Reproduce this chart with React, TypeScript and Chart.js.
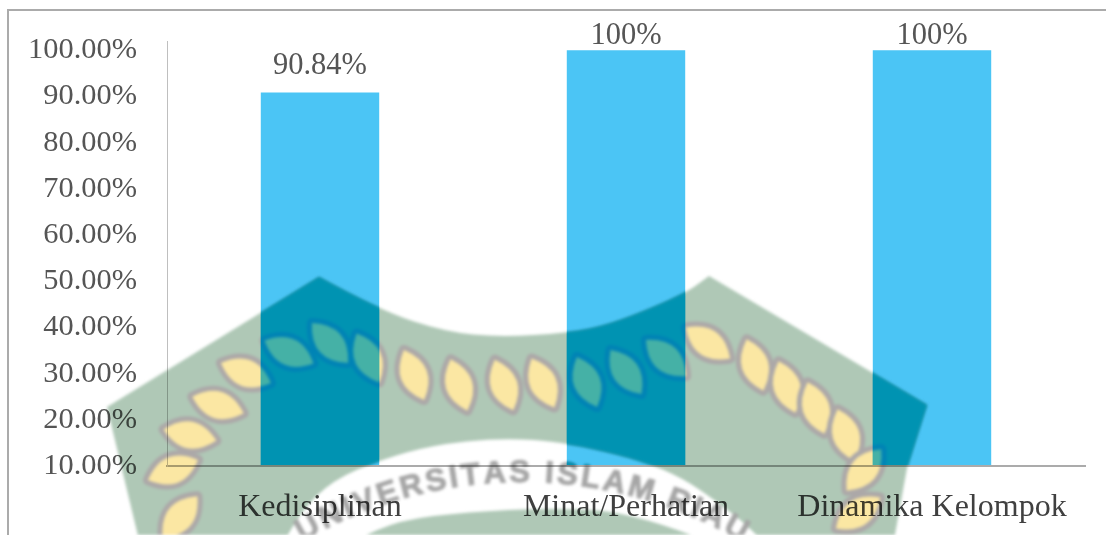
import React, { useEffect, useRef } from "react";
import { Chart, registerables } from "chart.js";

Chart.register(...registerables);

const categories = ["Kedisiplinan", "Minat/Perhatian", "Dinamika Kelompok"];
const scores = [90.84, 100, 100];
const scoreLabels = ["90.84%", "100%", "100%"];
const yTickValues = [10, 20, 30, 40, 50, 60, 70, 80, 90, 100];

const SERIF = '"Liberation Serif", "Times New Roman", serif';
const BAR_BLUE = "#4BC5F5";

type Pt = [number, number];
type Palette = { field: string; rim: string; leaf: string; text: string };

// University crest printed across the page behind the chart.
const crestOutline: Pt[] = [
  [107, 407], [319, 277], [379, 310], [446, 332], [500, 337], [567, 333], [610, 325],
  [683, 295], [709, 276], [927, 405], [907, 468], [894, 540], [139, 540],
];
const ringUpper: Pt[] = [
  [285, 540], [300, 512], [333, 480], [380, 460], [433, 445], [500, 438], [567, 442],
  [667, 467], [733, 513], [762, 540],
];
const ringLower: Pt[] = [
  [704, 540], [633, 512], [550, 508], [467, 512], [400, 520], [355, 540],
];
// x, y, rotation in degrees
const crestLeaves: [number, number, number][] = [
  [180, 517, -50], [173, 470, -22], [190, 435, 12], [218, 405, 18], [246, 373, 22],
  [289, 352, 25], [330, 343, 48], [368, 358, 65], [414, 375, 68], [459, 385, 72],
  [504, 385, 70], [543, 383, 65], [587, 382, 68], [626, 372, 55], [666, 358, 42],
  [708, 343, 35], [755, 365, 72], [787, 387, 72], [816, 408, 72], [846, 435, 72],
  [864, 470, -50], [858, 513, -35],
];
const CREST_MOTTO = "UNIVERSITAS ISLAM RIAU";

const pageTones: Palette = { field: "#AFC8B6", rim: "#ACA8A8", leaf: "#FBE7A3", text: "#A6A6A6" };
const barTones: Palette = { field: "#0093B2", rim: "#0083B5", leaf: "#45B1A6", text: "#0093B2" };

function traceCurve(ctx: CanvasRenderingContext2D, pts: Pt[], startNew: boolean) {
  if (startNew) ctx.moveTo(pts[0][0], pts[0][1]);
  else ctx.lineTo(pts[0][0], pts[0][1]);
  for (let i = 1; i < pts.length - 1; i++) {
    const mx = (pts[i][0] + pts[i + 1][0]) / 2;
    const my = (pts[i][1] + pts[i + 1][1]) / 2;
    ctx.quadraticCurveTo(pts[i][0], pts[i][1], mx, my);
  }
  const last = pts[pts.length - 1];
  ctx.lineTo(last[0], last[1]);
}

function paintCrest(w: number, h: number, tones: Palette) {
  const layer = document.createElement("canvas");
  layer.width = w;
  layer.height = h;
  const c = layer.getContext("2d") as CanvasRenderingContext2D;

  // shield: straight flanks, scooped top between the two peaks
  c.fillStyle = tones.field;
  c.beginPath();
  c.moveTo(crestOutline[0][0], crestOutline[0][1]);
  c.lineTo(crestOutline[1][0], crestOutline[1][1]);
  traceCurve(c, crestOutline.slice(1, 9), false);
  for (const p of crestOutline.slice(9)) c.lineTo(p[0], p[1]);
  c.closePath();
  c.fill();

  // pale ring that holds the motto
  c.save();
  c.globalCompositeOperation = "destination-out";
  c.beginPath();
  traceCurve(c, ringUpper, true);
  traceCurve(c, ringLower, false);
  c.closePath();
  c.fill();
  c.restore();

  // wreath
  for (const [x, y, deg] of crestLeaves) {
    c.save();
    c.translate(x, y);
    c.rotate((deg * Math.PI) / 180);
    c.beginPath();
    c.moveTo(-27, 0);
    c.quadraticCurveTo(0, -27, 27, 0);
    c.quadraticCurveTo(0, 27, -27, 0);
    c.closePath();
    c.lineWidth = 10;
    c.lineJoin = "round";
    c.strokeStyle = tones.rim;
    c.stroke();
    c.fillStyle = tones.leaf;
    c.fill();
    c.restore();
  }

  // motto set on an arc
  const cx = 522;
  const cy = 917;
  const radius = 435;
  c.fillStyle = tones.text;
  c.strokeStyle = tones.text;
  c.lineWidth = 1;
  c.font = 'bold 31px "Liberation Sans", Arial, sans-serif';
  c.textAlign = "center";
  c.textBaseline = "alphabetic";
  const chars = Array.from(CREST_MOTTO);
  const spacing = 3;
  const widths = chars.map((ch) => c.measureText(ch).width + spacing);
  const total = widths.reduce((a, b) => a + b, 0);
  let run = -total / 2;
  chars.forEach((ch, i) => {
    const a = (run + widths[i] / 2) / radius;
    c.save();
    c.translate(cx + radius * Math.sin(a), cy - radius * Math.cos(a));
    c.rotate(a);
    c.fillText(ch, 0, 0);
    c.strokeText(ch, 0, 0);
    c.restore();
    run += widths[i];
  });
  return layer;
}

const scoreLabelPlugin = {
  id: "scoreLabels",
  afterDatasetsDraw(chart: any) {
    const { ctx, chartArea } = chart;
    const bars = chart.getDatasetMeta(0).data;
    ctx.save();
    ctx.fillStyle = "#555555";
    ctx.font = `30.5px ${SERIF}`;
    ctx.textAlign = "center";
    ctx.textBaseline = "alphabetic";
    bars.forEach((bar: any, i: number) => {
      ctx.fillText(scoreLabels[i], bar.x, Math.max(bar.y - 19, chartArea.top + 3));
    });
    ctx.restore();
  },
};

const pagePlugin = {
  id: "pageDressing",
  afterDraw(chart: any) {
    const { ctx, width, height, chartArea } = chart;
    ctx.save();

    // figure frame, open on the right and bottom
    ctx.strokeStyle = "#ABABAB";
    ctx.lineWidth = 2;
    ctx.beginPath();
    ctx.moveTo(8, height);
    ctx.lineTo(8, 10);
    ctx.lineTo(width, 10);
    ctx.stroke();

    // crest darkens whatever it crosses
    ctx.filter = "blur(1.5px)";
    ctx.globalCompositeOperation = "multiply";
    ctx.drawImage(paintCrest(width, height, pageTones), 0, 0);
    ctx.globalCompositeOperation = "source-over";

    // inside the bars it reads in deeper blues
    const tinted = paintCrest(width, height, barTones);
    const floor = chartArea.bottom - 1;
    ctx.beginPath();
    chart.getDatasetMeta(0).data.forEach((bar: any) => {
      ctx.rect(bar.x - bar.width / 2, bar.y, bar.width, floor - bar.y);
    });
    ctx.clip();
    ctx.drawImage(tinted, 0, 0);
    ctx.restore();
  },
};

export default function App() {
  const ref = useRef<HTMLCanvasElement>(null);

  useEffect(() => {
    if (!ref.current) return;
    const chart = new Chart(ref.current, {
      type: "bar",
      data: {
        labels: categories,
        datasets: [
          {
            data: scores,
            backgroundColor: BAR_BLUE,
            categoryPercentage: 1,
            barPercentage: 0.387,
          },
        ],
      },
      options: {
        animation: false,
        responsive: false,
        layout: { padding: { top: 41, right: 21, left: 0, bottom: 0 } },
        plugins: { legend: { display: false }, tooltip: { enabled: false } },
        scales: {
          x: {
            grid: { display: false, drawTicks: false },
            border: { display: true, color: "#ABABAB", width: 2, z: 1 },
            ticks: {
              padding: 22,
              color: "#404040",
              maxRotation: 0,
              font: { family: SERIF, size: 32 },
            },
            afterFit: (axis: any) => {
              axis.height = 69;
            },
          },
          y: {
            min: 10,
            max: 102,
            grid: { display: false, drawTicks: false },
            border: { display: true, color: "#BFBFBF", width: 1, z: 1 },
            afterBuildTicks: (axis: any) => {
              axis.ticks = yTickValues.map((value) => ({ value }));
            },
            ticks: {
              padding: 30,
              color: "#555555",
              font: { family: SERIF, size: 30.4 },
              callback: (v: any) => `${Number(v).toFixed(2)}%`,
            },
            afterFit: (axis: any) => {
              // Tick padding is only a horizontal gap here; keep it out of the vertical layout.
              axis.width = 167;
              axis.paddingTop = 0;
              axis.paddingBottom = 0;
            },
          },
        },
      },
      plugins: [scoreLabelPlugin, pagePlugin],
    } as any);
    return () => chart.destroy();
  }, []);

  return (
    <div style={{ position: "fixed", left: 0, top: 0, width: 1106, height: 535, background: "#fff" }}>
      <canvas ref={ref} width={1106} height={535} style={{ display: "block" }} />
    </div>
  );
}
